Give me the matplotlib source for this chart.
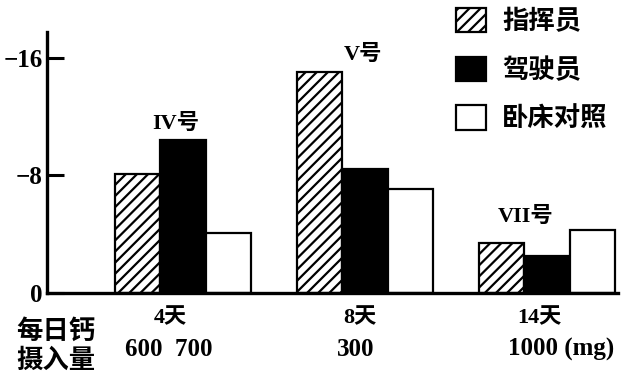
import matplotlib.pyplot as plt
import matplotlib as mpl
import numpy as np

mpl.rcParams['font.family'] = ['Liberation Serif', 'Noto Sans CJK SC']
mpl.rcParams['font.weight'] = 'bold'
mpl.rcParams['hatch.linewidth'] = 1.6

# data
days = ['4天', '8天', '14天']
calcium = ['600  700', '300', '1000 (mg)']
groups = ['IV号', 'V号', 'VII号']
series = ['指挥员', '驾驶员', '卧床对照']
commander = [8.1, 15.0, 3.4]
driver = [10.4, 8.4, 2.5]
bedrest = [4.1, 7.1, 4.3]
yticks = [0, 8, 16]
yticklabels = ['0', '−8', '−16']

fig = plt.figure(figsize=(6.25, 3.77), dpi=100)
ax = fig.add_axes([47/625, 1-293/377, (618-47)/625, (293-32)/377])

x = np.arange(len(days))
w = 0.25
styles = [dict(color='white', hatch='///'), dict(color='black'), dict(color='white')]
vals = [commander, driver, bedrest]
for i in range(3):
    ax.bar(x + (i-1)*w, vals[i], width=w, edgecolor='black', linewidth=1.6,
           label=series[i], **styles[i])

ax.set_xlim(-0.747, 2.39)
ax.set_ylim(0, 17.75)
ax.set_yticks(yticks)
ax.set_yticklabels(yticklabels, fontsize=18)
ax.set_xticks([])
ax.tick_params(axis='y', direction='in', length=12, width=2.2, pad=3)
for s in ['top', 'right']:
    ax.spines[s].set_visible(False)
for s in ['left', 'bottom']:
    ax.spines[s].set_linewidth(2.4)

# group labels above bars
glab_x = [-0.04, 0.99, 1.88]
glab_y = [10.8, 15.5, 4.5]
for gx, gy, g in zip(glab_x, glab_y, groups):
    ax.text(gx, gy, g, ha='center', va='bottom', fontsize=16)

# day and calcium intake labels
day_x = [-0.07, 0.97, 1.96]
cal_x = [-0.08, 0.95, 2.08]
for dx, d in zip(day_x, days):
    ax.text(dx, -0.095, d, transform=ax.get_xaxis_transform(), ha='center', va='center', fontsize=16)
for cx, c in zip(cal_x, calcium):
    ax.text(cx, -0.215, c, transform=ax.get_xaxis_transform(), ha='center', va='center', fontsize=18)
fig.text(56/625, 1-331/377, '每日钙', ha='center', va='center', fontsize=19)
fig.text(56/625, 1-361/377, '摄入量', ha='center', va='center', fontsize=19)

ax.legend(loc='upper left', bbox_to_anchor=(456/625, 1-8/377), bbox_transform=fig.transFigure,
          frameon=False, fontsize=19, handlelength=1.15, handleheight=1.05,
          labelspacing=0.85, handletextpad=0.6, borderpad=0, borderaxespad=0)

fig.savefig('out.png', dpi=100)
